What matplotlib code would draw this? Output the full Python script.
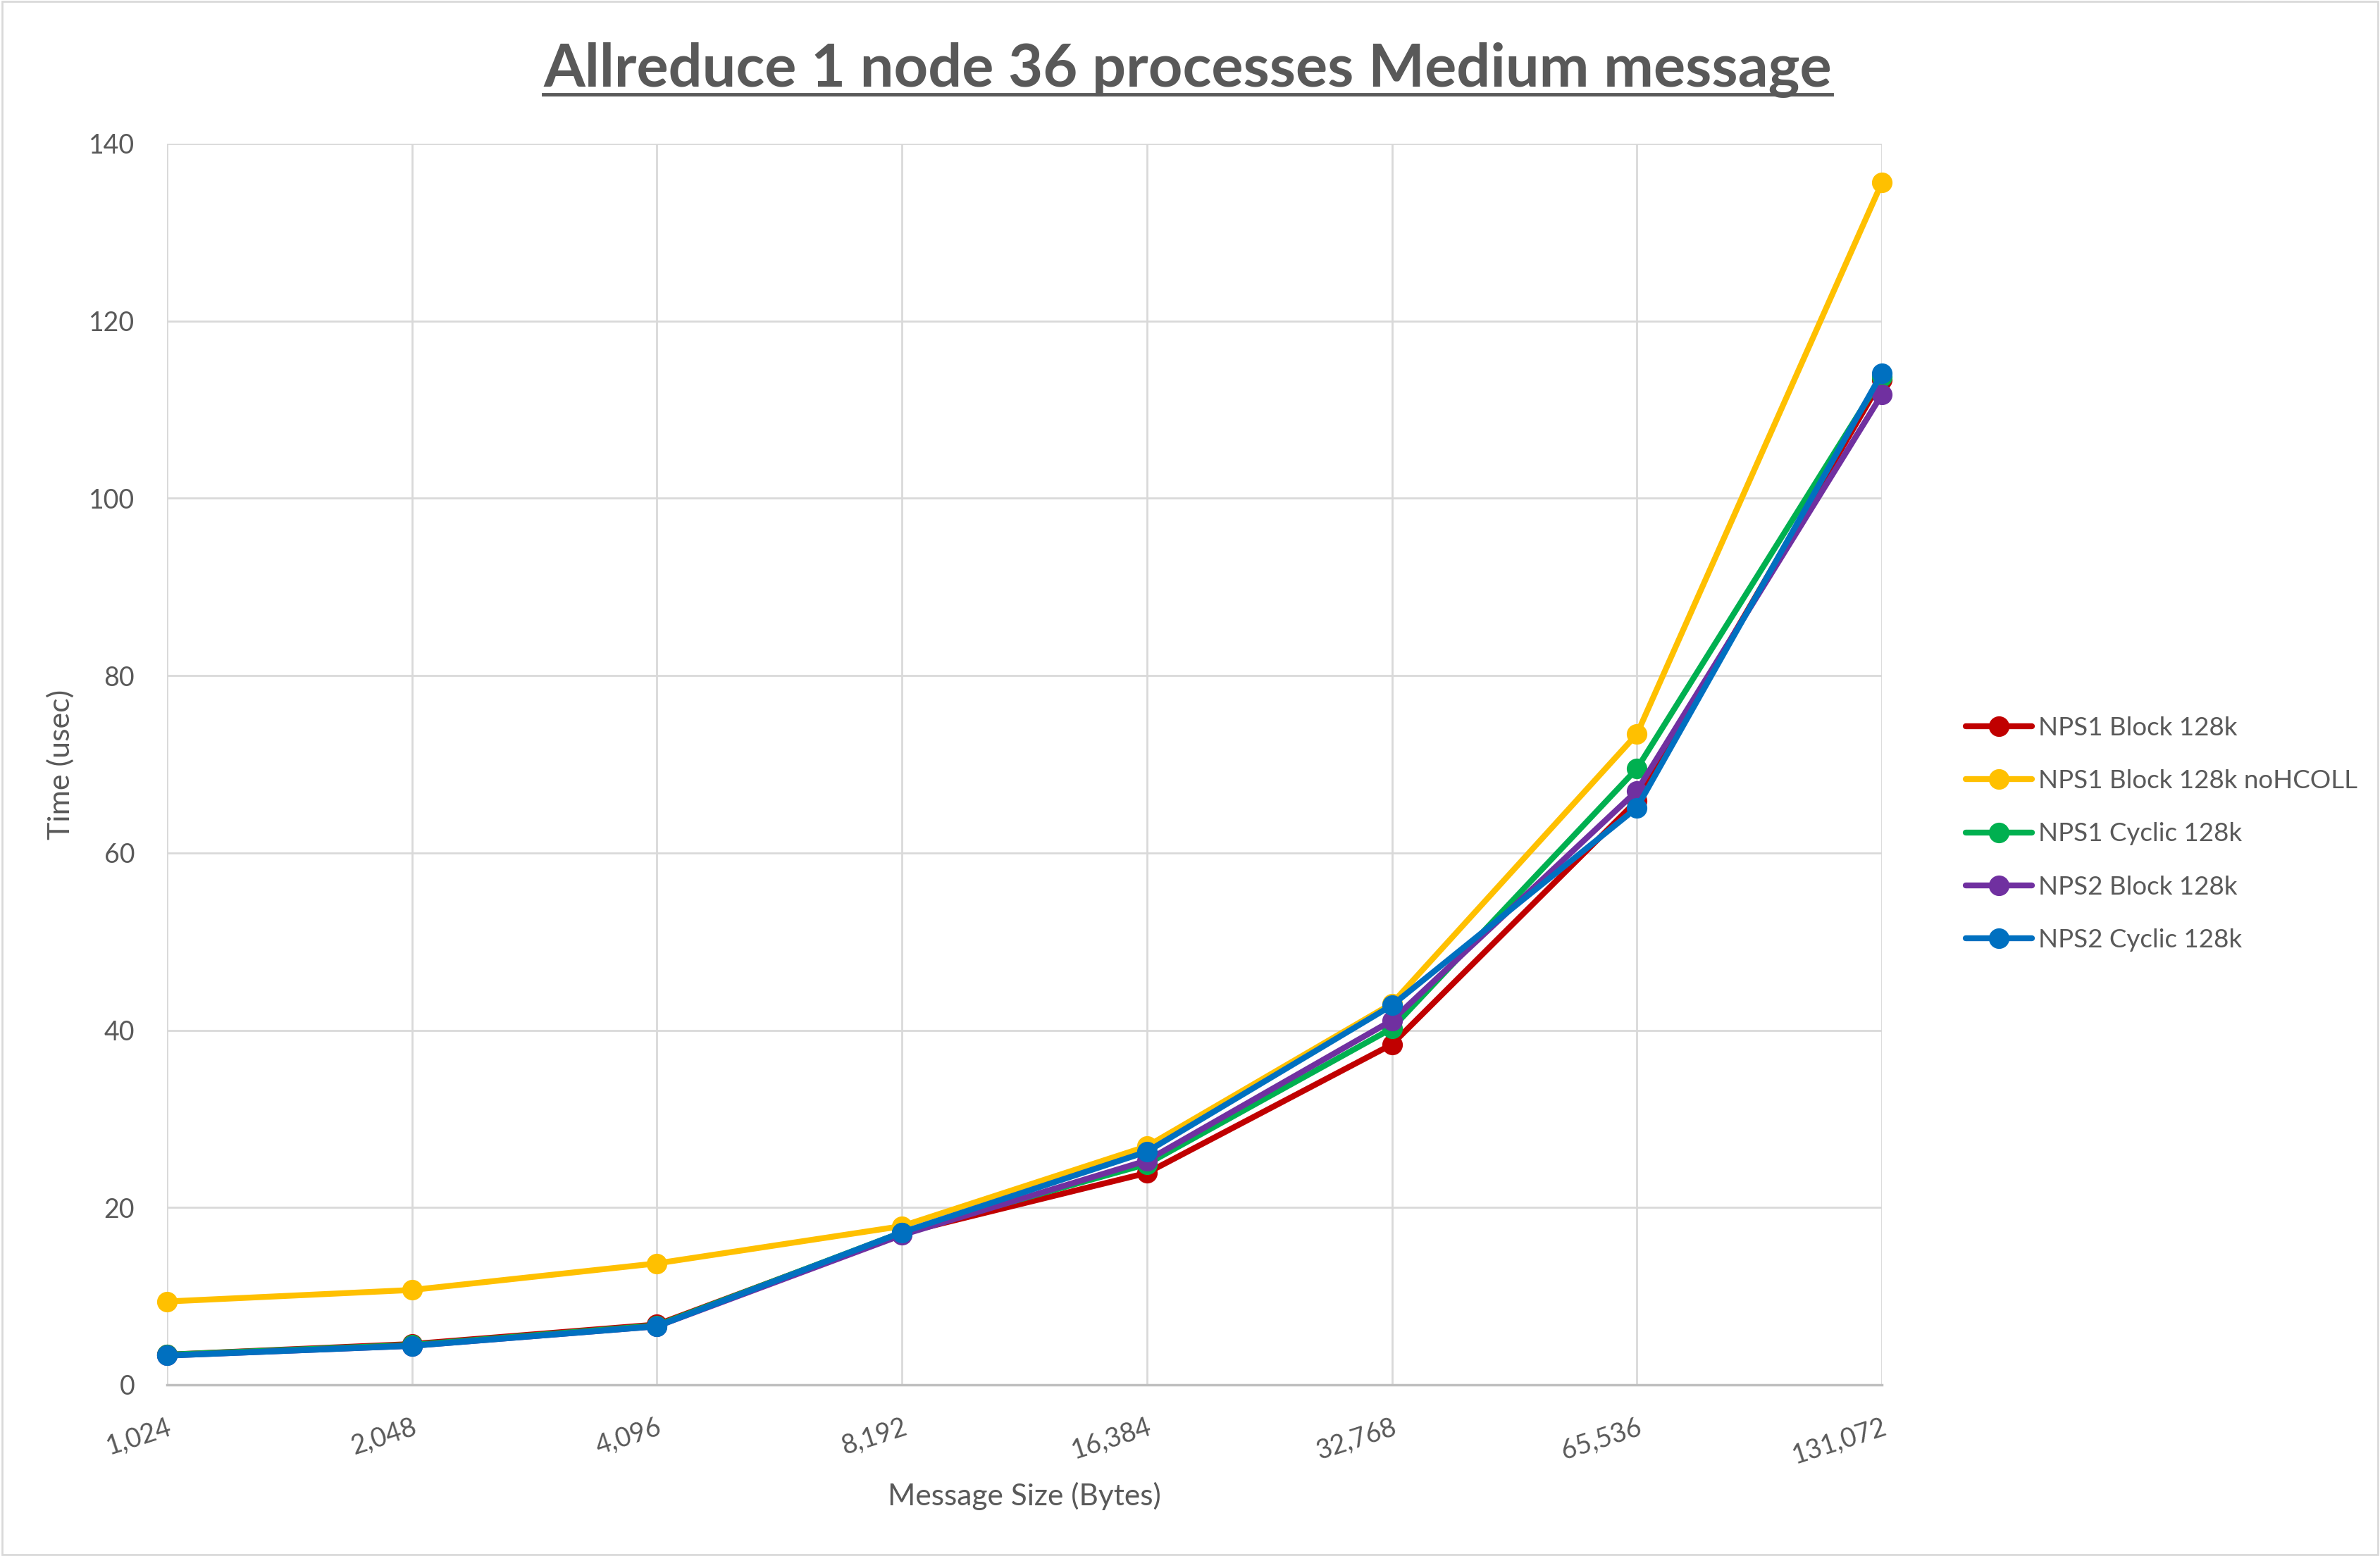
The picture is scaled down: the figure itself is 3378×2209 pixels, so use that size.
import matplotlib
matplotlib.use("Agg")
import matplotlib.pyplot as plt
from matplotlib.lines import Line2D
from matplotlib.patches import Rectangle

plt.rcParams["font.family"] = ["Lato", "DejaVu Sans"]

TEXT = "#595959"
GRID = "#D9D9D9"

# Message sizes (categorical x axis)
sizes = ["1,024", "2,048", "4,096", "8,192", "16,384", "32,768", "65,536", "131,072"]

# Time (usec) per series
nps1_block = [3.4, 4.6, 6.8, 17.1, 23.9, 38.4, 65.9, 113.4]
nps1_block_nohcoll = [9.4, 10.7, 13.7, 17.9, 26.9, 43.0, 73.4, 135.6]
nps1_cyclic = [3.4, 4.5, 6.7, 17.2, 24.9, 40.2, 69.5, 113.7]
nps2_block = [3.3, 4.4, 6.6, 16.9, 25.3, 41.1, 67.0, 111.7]
nps2_cyclic = [3.3, 4.4, 6.6, 17.2, 26.3, 42.8, 65.1, 114.1]

series = [
    ("NPS1 Block 128k", nps1_block, "#C00000"),
    ("NPS1 Block 128k noHCOLL", nps1_block_nohcoll, "#FFC000"),
    ("NPS1 Cyclic 128k", nps1_cyclic, "#00B050"),
    ("NPS2 Block 128k", nps2_block, "#7030A0"),
    ("NPS2 Cyclic 128k", nps2_cyclic, "#0070C0"),
]

fig = plt.figure(figsize=(33.78, 22.09), dpi=100, facecolor="white")
ax = fig.add_axes([237 / 3378, 1 - 1966 / 2209, (2671 - 237) / 3378, (1966 - 204) / 2209])

x = list(range(len(sizes)))
for label, vals, color in series:
    ax.plot(x, vals, color=color, lw=6, marker="o", markersize=20,
            solid_capstyle="round", label=label, clip_on=False, zorder=3)

ax.set_xlim(0, len(sizes) - 1)
ax.set_ylim(0, 140)
ax.set_yticks(range(0, 141, 20))
ax.set_xticks(x)
ax.set_xticklabels(sizes, rotation=18, ha="right", va="top", rotation_mode="anchor")

ax.grid(True, color=GRID, lw=2)
ax.set_axisbelow(True)
for s in ["left", "top", "right"]:
    ax.spines[s].set_visible(False)
ax.spines["bottom"].set_color("#BFBFBF")
ax.spines["bottom"].set_linewidth(2.5)
ax.spines["bottom"].set_zorder(2)

ax.tick_params(axis="both", length=0, labelcolor=TEXT, labelsize=27)
ax.tick_params(axis="y", pad=33)
ax.tick_params(axis="x", pad=30)

ax.set_xlabel("Message Size (Bytes)", fontsize=30.5, color=TEXT)
ax.xaxis.set_label_coords(0.5, -0.0897)
ax.xaxis.label.set_va("center")
ax.set_ylabel("Time (usec)", fontsize=31, color=TEXT)
ax.yaxis.set_label_coords(-0.062, 0.5)
ax.yaxis.label.set_va("center")

leg = fig.legend(loc="center left", bbox_to_anchor=(2790 / 3378, 1 - 1184 / 2209),
                 frameon=False, fontsize=26.5, handlelength=2.55, handletextpad=0.25,
                 labelspacing=1.15, borderpad=0, borderaxespad=0)
for t in leg.get_texts():
    t.set_color(TEXT)

title = fig.text(0.4989, 1 - 122 / 2209, "Allreduce 1 node 36 processes Medium message",
                 ha="center", va="baseline", fontsize=61, fontweight="bold", color=TEXT)

# underline the title
fig.canvas.draw()
bb = title.get_window_extent().transformed(fig.transFigure.inverted())
fig.add_artist(Line2D([bb.x0, bb.x1], [1 - 134 / 2209] * 2, color=TEXT, lw=3.5,
                      transform=fig.transFigure))

# chart border
fig.add_artist(Rectangle((0.001, 0.001), 0.998, 0.998, transform=fig.transFigure,
                         fill=False, edgecolor=GRID, lw=2))

fig.savefig("out.png", dpi=100, facecolor="white")
